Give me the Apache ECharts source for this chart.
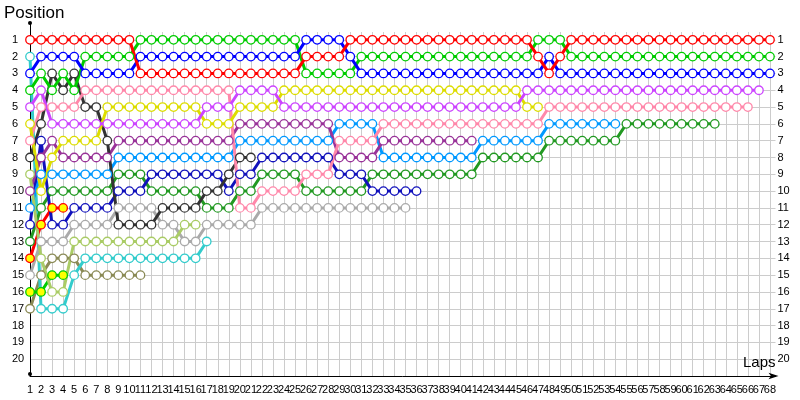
<!DOCTYPE html>
<html><head><meta charset="utf-8">
<script src="https://cdn.jsdelivr.net/npm/echarts@6/dist/echarts.min.js"></script>
<style>html,body{margin:0;padding:0;background:#fff}#c{width:800px;height:400px}</style>
</head><body><div id="c"></div>
<script>
// Position of each driver on each lap (index 0 = lap 1)
const red    = [1,1,1,1,1,1,1,1,1,1, 3,3,3,3,3,3,3,3,3,3,3,3,3,3,3, 2,2,2,2, 1,1,1,1,1,1,1,1,1,1,1,1,1,1,1,1,1, 2,3,2, 1,1,1,1,1,1,1,1,1,1,1,1,1,1,1,1,1,1,1];
const blue   = [3,2,2,2,2,3,3,3,3,3, 2,2,2,2,2,2,2,2,2,2,2,2,2,2,2, 1,1,1,1, 2, 3,3,3,3,3,3,3,3,3,3,3,3,3,3,3,3,3, 2, 3,3,3,3,3,3,3,3,3,3,3,3,3,3,3,3,3,3,3,3];
const green  = [4,3,4,3,4,2,2,2,2,2, 1,1,1,1,1,1,1,1,1,1,1,1,1,1,1, 3,3,3,3,3, 2,2,2,2,2,2,2,2,2,2,2,2,2,2,2,2, 1,1,1, 2,2,2,2,2,2,2,2,2,2,2,2,2,2,2,2,2,2,2];
const violet = [5,4,6,6,6,6,6,6,6,6,6,6,6,6,6,6, 5,5,5, 4,4,4,4, 5,5,5,5,5,5,5,5,5,5,5,5,5,5,5,5,5,5,5,5,5,5, 4,4,4,4,4,4,4,4,4,4,4,4,4,4,4,4,4,4,4,4,4,4];
const yellow = [6,10,8,7,7,7,7, 5,5,5,5,5,5,5,5,5, 6,6,6, 5,5,5,5, 4,4,4,4,4,4,4,4,4,4,4,4,4,4,4,4,4,4,4,4,4,4, 5,5];
const pink   = [7,5,5,5,5, 4,4,4,4,4,4,4,4,4,4,4,4,4,4, 11,11, 10,10,10,10, 9,9,9, 7,7,7,7, 6,6,6,6,6,6,6,6,6,6,6,6,6,6,6, 5,5,5,5,5,5,5,5,5,5,5,5,5,5,5,5,5,5,5];
const dkgray = [8,6,3,4,3,5,5,7, 12,12,12,12, 11,11,11,11, 10,10, 9, 8,8];
const ltolive= [9,14,16,16, 13,13,13,13,13,13,13,13,13,13, 12,12];
const purple = [10,8,7,8,8,8,8,8, 7,7,7,7,7,7,7,7,7,7,7, 6,6,6,6,6,6,6,6,6, 8,8,8,8, 7,7,7,7,7,7,7,7,7];
const ltblue = [11,9,9,9,9,9,9,9, 8,8,8,8,8,8,8,8,8,8,8, 7,7,7,7,7,7,7,7,7, 6,6,6,6, 8,8,8,8,8,8,8,8,8, 7,7,7,7,7,7, 6,6,6,6,6,6,6];
const dkblue = [12,7,12,12, 11,11,11,11, 10,10,10, 9,9,9,9,9,9,9, 10, 9,9, 8,8,8,8,8,8,8, 9,9,9, 10,10,10,10,10];
const fgreen = [13,11,10,10,10,10,10,10, 9,9,9, 10,10,10,10,10, 11,11,11, 10,10, 9,9,9,9, 10,10,10,10,10,10, 9,9,9,9,9,9,9,9,9,9, 8,8,8,8,8,8, 7,7,7,7,7,7,7, 6,6,6,6,6,6,6,6,6];
const redYel = [14,12,11,11];
const gray   = [15,13,13,13, 12,12,12,12, 11,11,11,11, 12,12, 13,13, 12,12,12,12,12, 11,11,11,11,11,11,11,11,11,11,11,11,11,11];
const grnYel = [16,16,15,15];
const cyan   = [2,17,17,17,15, 14,14,14,14,14,14,14,14,14,14,14, 13];
const olive  = [17,15,14,14,14, 15,15,15,15,15,15];

const lapTicks = 68;
const posTicks = 20;

const drivers = [
  {d: olive,   c: '#8a8a55', f: '#ffffff'},
  {d: cyan,    c: '#33cccc', f: '#ffffff'},
  {d: grnYel,  c: '#00cc00', f: '#ffff00'},
  {d: gray,    c: '#aaaaaa', f: '#ffffff'},
  {d: redYel,  c: '#ff0000', f: '#ffff00'},
  {d: fgreen,  c: '#229922', f: '#ffffff'},
  {d: dkblue,  c: '#1111bb', f: '#ffffff'},
  {d: ltblue,  c: '#0099ff', f: '#ffffff'},
  {d: purple,  c: '#993399', f: '#ffffff'},
  {d: ltolive, c: '#aacc66', f: '#ffffff'},
  {d: dkgray,  c: '#333333', f: '#ffffff'},
  {d: pink,    c: '#ff88aa', f: '#ffffff'},
  {d: yellow,  c: '#dddd00', f: '#ffffff'},
  {d: violet,  c: '#cc44ff', f: '#ffffff'},
  {d: green,   c: '#00cc00', f: '#ffffff'},
  {d: blue,    c: '#0000ff', f: '#ffffff'},
  {d: red,     c: '#ff0000', f: '#ffffff'}
];

const font = 'Liberation Sans, DejaVu Sans, sans-serif';
const chart = echarts.init(document.getElementById('c'), null, {renderer: 'canvas'});
const isInt = v => Math.abs(v - Math.round(v)) < 1e-9;
const tickFont = {color: '#000', fontFamily: 'Liberation Sans, sans-serif', fontSize: 11};

chart.setOption({
  animation: false,
  backgroundColor: '#ffffff',
  grid: [
    {left: 30, right: 24.5, top: 23, bottom: 24, containLabel: false},
    {left: 30, right: 24.5, top: 32, bottom: 24, containLabel: false}
  ],
  title: [
    {text: 'Position', left: 4, top: 5, padding: 0, textStyle: {fontFamily: font, fontSize: 17, fontWeight: 'normal', color: '#000'}},
    {text: 'Laps', left: 743, top: 355, padding: 0, textStyle: {fontFamily: font, fontSize: 15, fontWeight: 'normal', color: '#000'}}
  ],
  xAxis: [{
    type: 'value', min: 1, max: lapTicks + 0.5, interval: 1, gridIndex: 0, z: 3, position: 'bottom',
    axisLine: {show: true, onZero: false, lineStyle: {color: '#000', width: 1}, symbol: ['none', 'arrow'], symbolSize: [5, 10], symbolOffset: [0, 3]},
    axisTick: {show: false},
    axisLabel: Object.assign({margin: 8, formatter: v => (isInt(v) && v >= 1 && v <= lapTicks) ? String(v) : ''}, tickFont),
    splitLine: {show: false}
  }, {
    type: 'value', min: 1, max: lapTicks + 0.5, interval: 1, gridIndex: 1,
    axisLine: {show: false}, axisTick: {show: false}, axisLabel: {show: false},
    splitLine: {show: true, showMinLine: false, showMaxLine: false, lineStyle: {color: '#cccccc', width: 1}}
  }],
  yAxis: [
    {type: 'value', inverse: true, min: 0, max: posTicks + 1, interval: 1, gridIndex: 0, z: 3,
     axisLine: {show: true, onZero: false, lineStyle: {color: '#000', width: 1}, symbol: ['circle', 'circle'], symbolSize: [4, 4], symbolOffset: [2, 0]},
     axisTick: {show: false},
     axisLabel: Object.assign({margin: 18, align: 'left', formatter: v => (isInt(v) && v >= 1 && v <= posTicks) ? String(v) : ''}, tickFont),
     splitLine: {show: true, showMinLine: false, showMaxLine: false, lineStyle: {color: '#cccccc', width: 1}}},
    {type: 'value', inverse: true, min: 0, max: posTicks + 1, interval: 1, position: 'right', gridIndex: 0,
     axisLine: {show: false}, axisTick: {show: false},
     axisLabel: Object.assign({margin: 2, align: 'left', formatter: v => (isInt(v) && v >= 1 && v <= posTicks) ? String(v) : ''}, tickFont),
     splitLine: {show: false}},
    {type: 'value', min: 0, max: 1, gridIndex: 1, show: false}
  ],
  series: drivers.map(o => ({
    type: 'line',
    xAxisIndex: 0, yAxisIndex: 0,
    data: o.d.map((p, i) => [i + 1, p]),
    symbol: 'circle', symbolSize: 8.5, showAllSymbol: true,
    lineStyle: {color: o.c, width: 3},
    itemStyle: {color: o.f, borderColor: o.c, borderWidth: 1.3},
    emphasis: {disabled: true},
    silent: true
  }))
});
</script></body></html>
